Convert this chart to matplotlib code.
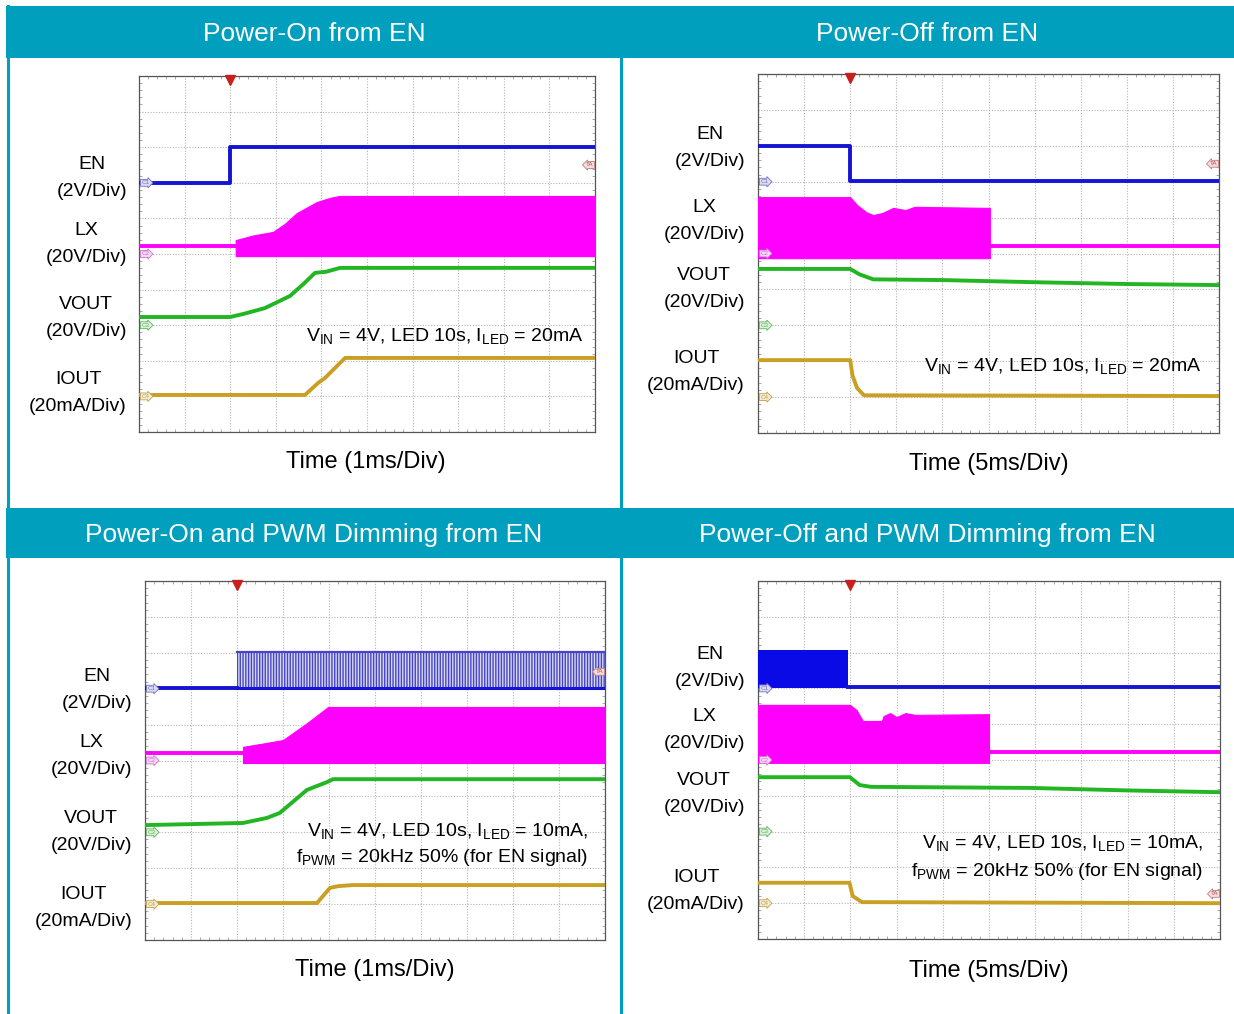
import numpy as np
import matplotlib
matplotlib.use("Agg")
import matplotlib.pyplot as plt
from matplotlib.patches import Rectangle
from matplotlib.ticker import MultipleLocator

plt.rcParams["font.family"] = ["Liberation Sans", "DejaVu Sans"]
plt.rcParams["mathtext.fontset"] = "custom"
plt.rcParams["mathtext.rm"] = "Liberation Sans"
plt.rcParams["mathtext.it"] = "Liberation Sans:italic"
plt.rcParams["hatch.linewidth"] = 1.0

TEAL = "#009fbd"
C_EN, C_PWM, C_LX, C_VOUT, C_IOUT = "#1414d2", "#4646c4", "#ff00ff", "#22b622", "#c9a024"

titles = ["Power-On from EN", "Power-Off from EN",
          "Power-On and PWM Dimming from EN", "Power-Off and PWM Dimming from EN"]
time_labels = ["Time (1ms/Div)", "Time (5ms/Div)", "Time (1ms/Div)", "Time (5ms/Div)"]
ch_names = ["EN\n(2V/Div)", "LX\n(20V/Div)", "VOUT\n(20V/Div)", "IOUT\n(20mA/Div)"]
ch_tags = ["C1", "C2", "C3", "C4"]
ch_offsets = [7.0, 5.0, 3.0, 1.0]
trigger_div = 2.0
notes = [
    [r"V$_{\mathrm{IN}}$ = 4V, LED 10s, I$_{\mathrm{LED}}$ = 20mA"],
    [r"V$_{\mathrm{IN}}$ = 4V, LED 10s, I$_{\mathrm{LED}}$ = 20mA"],
    [r"V$_{\mathrm{IN}}$ = 4V, LED 10s, I$_{\mathrm{LED}}$ = 10mA,",
     r"f$_{\mathrm{PWM}}$ = 20kHz 50% (for EN signal)"],
    [r"V$_{\mathrm{IN}}$ = 4V, LED 10s, I$_{\mathrm{LED}}$ = 10mA,",
     r"f$_{\mathrm{PWM}}$ = 20kHz 50% (for EN signal)"],
]

# all traces in scope divisions (x: 0..10, y: 0..10)
# --- Power-On from EN ---
on_en_x = [0, 2.0, 2.0, 10]
on_en_y = [7.0, 7.0, 8.0, 8.0]
on_lx_x = [0, 2.12]
on_lx_y = [5.22, 5.22]
on_env_x = [2.12, 2.5, 2.94, 3.2, 3.46, 3.9, 4.2, 4.4, 10]
on_env_hi = [5.39, 5.52, 5.62, 5.85, 6.15, 6.46, 6.58, 6.63, 6.63]
on_env_lo = [4.94] * 9
on_vout_x = [0, 2.0, 2.3, 2.76, 3.31, 3.6, 3.86, 4.1, 4.41, 10]
on_vout_y = [3.23, 3.23, 3.32, 3.48, 3.82, 4.15, 4.47, 4.5, 4.61, 4.61]
on_iout_x = [0, 3.64, 3.93, 4.08, 4.3, 4.52, 10]
on_iout_y = [1.04, 1.04, 1.38, 1.52, 1.8, 2.08, 2.08]

# --- Power-Off from EN ---
off_en_x = [0, 2.0, 2.0, 10]
off_en_y = [8.0, 8.0, 7.02, 7.02]
off_lx_x = [5.03, 10]
off_lx_y = [5.2, 5.2]
off_env_x = [0, 2.0, 2.15, 2.35, 2.5, 2.7, 2.93, 3.2, 3.4, 5.03]
off_env_hi = [6.57, 6.57, 6.35, 6.15, 6.07, 6.13, 6.27, 6.21, 6.3, 6.27]
off_env_lo = [4.87] * 10
off_vout_x = [0, 2.0, 2.2, 2.5, 4.0, 6.0, 8.0, 10]
off_vout_y = [4.57, 4.57, 4.42, 4.28, 4.26, 4.2, 4.15, 4.12]
off_iout_x = [0, 2.0, 2.05, 2.15, 2.3, 10]
off_iout_y = [2.03, 2.03, 1.6, 1.25, 1.05, 1.03]

# --- Power-On and PWM Dimming ---
pon_en_x = [0, 2.0]
pon_en_y = [7.02, 7.02]
pon_pwm_x = [2.0, 10]
pon_pwm_lo = [7.02, 7.02]
pon_pwm_hi = [8.02, 8.02]
pon_lx_x = [0, 2.13]
pon_lx_y = [5.21, 5.21]
pon_env_x = [2.13, 2.6, 3.0, 3.52, 3.98, 10]
pon_env_hi = [5.38, 5.48, 5.57, 6.04, 6.49, 6.49]
pon_env_lo = [4.93] * 6
pon_vout_x = [0, 2.13, 2.65, 2.93, 3.52, 3.96, 4.09, 10]
pon_vout_y = [3.2, 3.26, 3.4, 3.54, 4.18, 4.4, 4.48, 4.48]
pon_iout_x = [0, 3.74, 4.02, 4.2, 4.52, 10]
pon_iout_y = [1.03, 1.03, 1.45, 1.5, 1.53, 1.53]

# --- Power-Off and PWM Dimming ---
poff_en_x = [1.95, 10]
poff_en_y = [7.04, 7.04]
poff_pwm_x = [0, 1.95]
poff_pwm_lo = [7.0, 7.0]
poff_pwm_hi = [8.08, 8.08]
poff_lx_x = [5.0, 10]
poff_lx_y = [5.22, 5.22]
poff_env_x = [0, 1.99, 2.13, 2.27, 2.68, 2.72, 2.86, 3.0, 3.19, 3.4, 5.0]
poff_env_hi = [6.54, 6.54, 6.4, 6.09, 6.09, 6.23, 6.31, 6.2, 6.31, 6.26, 6.28]
poff_env_lo = [4.92] * 11
poff_vout_x = [0, 1.99, 2.2, 2.45, 5.9, 8.0, 10]
poff_vout_y = [4.52, 4.52, 4.3, 4.25, 4.22, 4.15, 4.1]
poff_iout_x = [0, 1.98, 2.05, 2.25, 10]
poff_iout_y = [1.57, 1.57, 1.2, 1.03, 1.0]

panels = [
    dict(en=(on_en_x, on_en_y), lx=(on_lx_x, on_lx_y), env=(on_env_x, on_env_hi, on_env_lo),
         vout=(on_vout_x, on_vout_y), iout=(on_iout_x, on_iout_y), pwm=None, pwm_solid=False),
    dict(en=(off_en_x, off_en_y), lx=(off_lx_x, off_lx_y), env=(off_env_x, off_env_hi, off_env_lo),
         vout=(off_vout_x, off_vout_y), iout=(off_iout_x, off_iout_y), pwm=None, pwm_solid=False),
    dict(en=(pon_en_x, pon_en_y), lx=(pon_lx_x, pon_lx_y), env=(pon_env_x, pon_env_hi, pon_env_lo),
         vout=(pon_vout_x, pon_vout_y), iout=(pon_iout_x, pon_iout_y),
         pwm=(pon_pwm_x, pon_pwm_hi, pon_pwm_lo), pwm_solid=False),
    dict(en=(poff_en_x, poff_en_y), lx=(poff_lx_x, poff_lx_y), env=(poff_env_x, poff_env_hi, poff_env_lo),
         vout=(poff_vout_x, poff_vout_y), iout=(poff_iout_x, poff_iout_y),
         pwm=(poff_pwm_x, poff_pwm_hi, poff_pwm_lo), pwm_solid=True),
]

# layout in pixels
W, H = 1234, 1014
boxes = [(139, 76, 595, 432), (758, 74, 1219, 433), (145, 581, 605, 940), (758, 581, 1220, 939)]
label_right = [127, 745, 132, 745]
label_y = [[178, 244, 318, 393], [148, 221, 289, 372], [690, 756, 832, 908], [668, 730, 794, 891]]
time_pos = [(366, 462), (989, 464), (375, 970), (989, 971)]
title_pos = [(314, 34), (927, 34), (314, 535), (927, 535)]
note_pos = [(9.76, [2.56]), (9.63, [1.73]), (9.63, [2.9, 2.17]), (9.63, [2.54, 1.76])]
ta_y = [7.5, 7.5, 7.47, 1.26]

fig = plt.figure(figsize=(W / 100, H / 100), dpi=100)
bg = fig.add_axes([0, 0, 1, 1])
bg.set_xlim(0, W); bg.set_ylim(H, 0); bg.axis("off")

# frame and header bars
bg.add_patch(Rectangle((6, 6), W - 6, 52, color=TEAL, lw=0))
bg.add_patch(Rectangle((6, 508), W - 6, 50, color=TEAL, lw=0))
bg.plot([8, 8], [6, H], color=TEAL, lw=2.2)
bg.plot([621, 621], [58, H], color=TEAL, lw=2.2)

tag_fc = ["#dcdcf4", "#f8d8f8", "#dcf2dc", "#f4ecd0"]
tag_ec = ["#7070c0", "#d070d0", "#60b060", "#c0a050"]

for i, p in enumerate(panels):
    x0, y0, x1, y1 = boxes[i]
    bg.text(*title_pos[i], titles[i], color="white", fontsize=19, ha="center", va="center")
    bg.text(*time_pos[i], time_labels[i], fontsize=17, ha="center", va="center")
    for name, yy in zip(ch_names, label_y[i]):
        bg.text(label_right[i], yy, name, fontsize=14, ha="right", va="center",
                multialignment="center", linespacing=1.75)

    ax = fig.add_axes([x0 / W, 1 - y1 / H, (x1 - x0) / W, (y1 - y0) / H])
    ax.set_xlim(0, 10); ax.set_ylim(0, 10)
    ax.set_xticks(range(11)); ax.set_yticks(range(11))
    ax.xaxis.set_minor_locator(MultipleLocator(0.2))
    ax.yaxis.set_minor_locator(MultipleLocator(0.2))
    ax.tick_params(which="major", length=0, labelbottom=False, labelleft=False)
    ax.tick_params(which="minor", direction="in", length=2.5, width=0.6, color="#9a9a9a",
                   top=True, right=True)
    ax.grid(True, which="major", ls=(0, (1, 1.5)), color="#b4b4b4", lw=0.8)
    for s in ax.spines.values():
        s.set_color("#555555"); s.set_linewidth(0.9)

    # EN
    if p["pwm"] is not None:
        px, phi, plo = p["pwm"]
        if p["pwm_solid"]:
            ax.fill_between(px, plo, phi, color="#0a0ae6", lw=0, zorder=3)
        else:
            ax.fill_between(px, plo, phi, facecolor="#d8d8f4", edgecolor=C_PWM,
                            hatch="|" * 6, lw=0, zorder=3)
            ax.plot(px, phi, color=C_PWM, lw=1.6, zorder=3)
            ax.plot(px, plo, color=C_EN, lw=2.2, zorder=3)
    ax.plot(*p["en"], color=C_EN, lw=2.8, zorder=4)
    # LX
    ex, ehi, elo = p["env"]
    ax.fill_between(ex, elo, ehi, color=C_LX, lw=0.8, zorder=3)
    ax.plot(*p["lx"], color=C_LX, lw=2.8, zorder=3)
    # VOUT, IOUT
    ax.plot(*p["vout"], color=C_VOUT, lw=2.8, zorder=4)
    ax.plot(*p["iout"], color=C_IOUT, lw=2.8, zorder=4)

    # channel tags, trigger, TA marker
    for tag, yy, fc, ec in zip(ch_tags, ch_offsets, tag_fc, tag_ec):
        ax.text(0.05, yy, tag, fontsize=4.5, color=ec, ha="left", va="center", zorder=5,
                bbox=dict(boxstyle="rarrow,pad=0.15", fc=fc, ec=ec, lw=0.6))
    ax.text(9.97, ta_y[i], "TA", fontsize=4.5, color="#b05050", ha="right", va="center", zorder=5,
            bbox=dict(boxstyle="larrow,pad=0.15", fc="#f4dcdc", ec="#c08080", lw=0.6))
    ax.plot(trigger_div, 9.88, marker="v", color="#c8201c", ms=7, clip_on=False, zorder=6)

    nx, nys = note_pos[i]
    for line, ny in zip(notes[i], nys):
        ax.text(nx, ny, line, fontsize=14, ha="right", va="baseline", zorder=6)

fig.savefig("out.png", dpi=100)
plt.close(fig)
